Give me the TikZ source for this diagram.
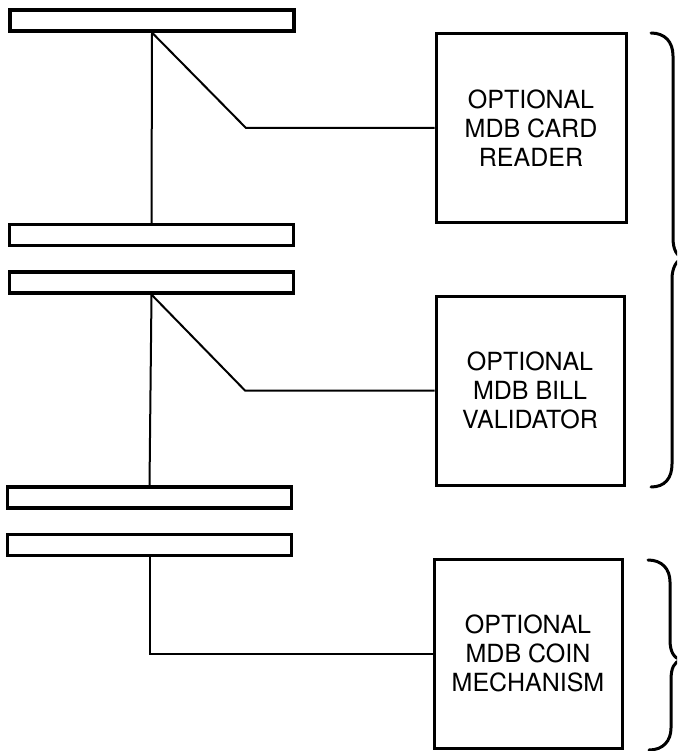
\documentclass[tikz,border=0pt]{standalone}
\usepackage{fontspec}
\setmainfont{TeX Gyre Heros}
\begin{document}
\begin{tikzpicture}[x=1pt,y=-1pt]
\tikzset{
  bar/.style={draw, line width=3.2pt, inner sep=0pt, minimum width=284pt, minimum height=21pt},
  unitbox/.style={draw, line width=3pt, inner sep=0pt, align=center, font=\fontsize{25}{29}\selectfont},
  wire/.style={line width=2pt},
  brace/.style={line width=3pt, line cap=round}
}
\useasboundingbox (0,0) rectangle (677,751);
\begin{scope}
\clip (0,0) rectangle (677,751);
% bars
\node[bar] (b1) at (152,20.5) {};
\node[bar] (b2) at (151.5,235) {};
\node[bar] (b3) at (151.5,282.5) {};
\node[bar] (b4) at (149.5,497.5) {};
\node[bar] (b5) at (149.5,545) {};
% boxes
\node[unitbox, minimum width=190pt, minimum height=188pt] (box1) at (531,128) {OPTIONAL\\MDB CARD\\READER};
\node[unitbox, minimum width=188pt, minimum height=189pt] (box2) at (530,390.5) {OPTIONAL\\MDB BILL\\VALIDATOR};
\node[unitbox, minimum width=188pt, minimum height=189pt] (box3) at (528,653.5) {OPTIONAL\\MDB COIN\\MECHANISM};
% bend points
\coordinate (k1) at (246,128);
\coordinate (k2) at (245,390.5);
% connectors
\draw[wire] (b1.south) -- (b2.north);
\draw[wire] (b1.south) -- (k1) -- (box1.west);
\draw[wire] (b3.south) -- (b4.north);
\draw[wire] (b3.south) -- (k2) -- (box2.west);
\draw[wire] (b5.south) |- (box3.west);
% braces
\draw[brace] (651,33) .. controls (665,33) and (673,42) .. (673,56) -- (673,238)
  .. controls (673,250) and (677,256) .. (683,258)
  .. controls (677,260) and (672,267) .. (672,279) -- (672,464)
  .. controls (672,478) and (665,487) .. (651,487);
\draw[brace] (648,560) .. controls (662,560) and (670,569) .. (670,582) -- (670,640)
  .. controls (670,652) and (674,658) .. (681,660)
  .. controls (674,662) and (671,668) .. (671,680) -- (671,728)
  .. controls (671,741) and (663,750) .. (649,750);
\end{scope}
\end{tikzpicture}
\end{document}
